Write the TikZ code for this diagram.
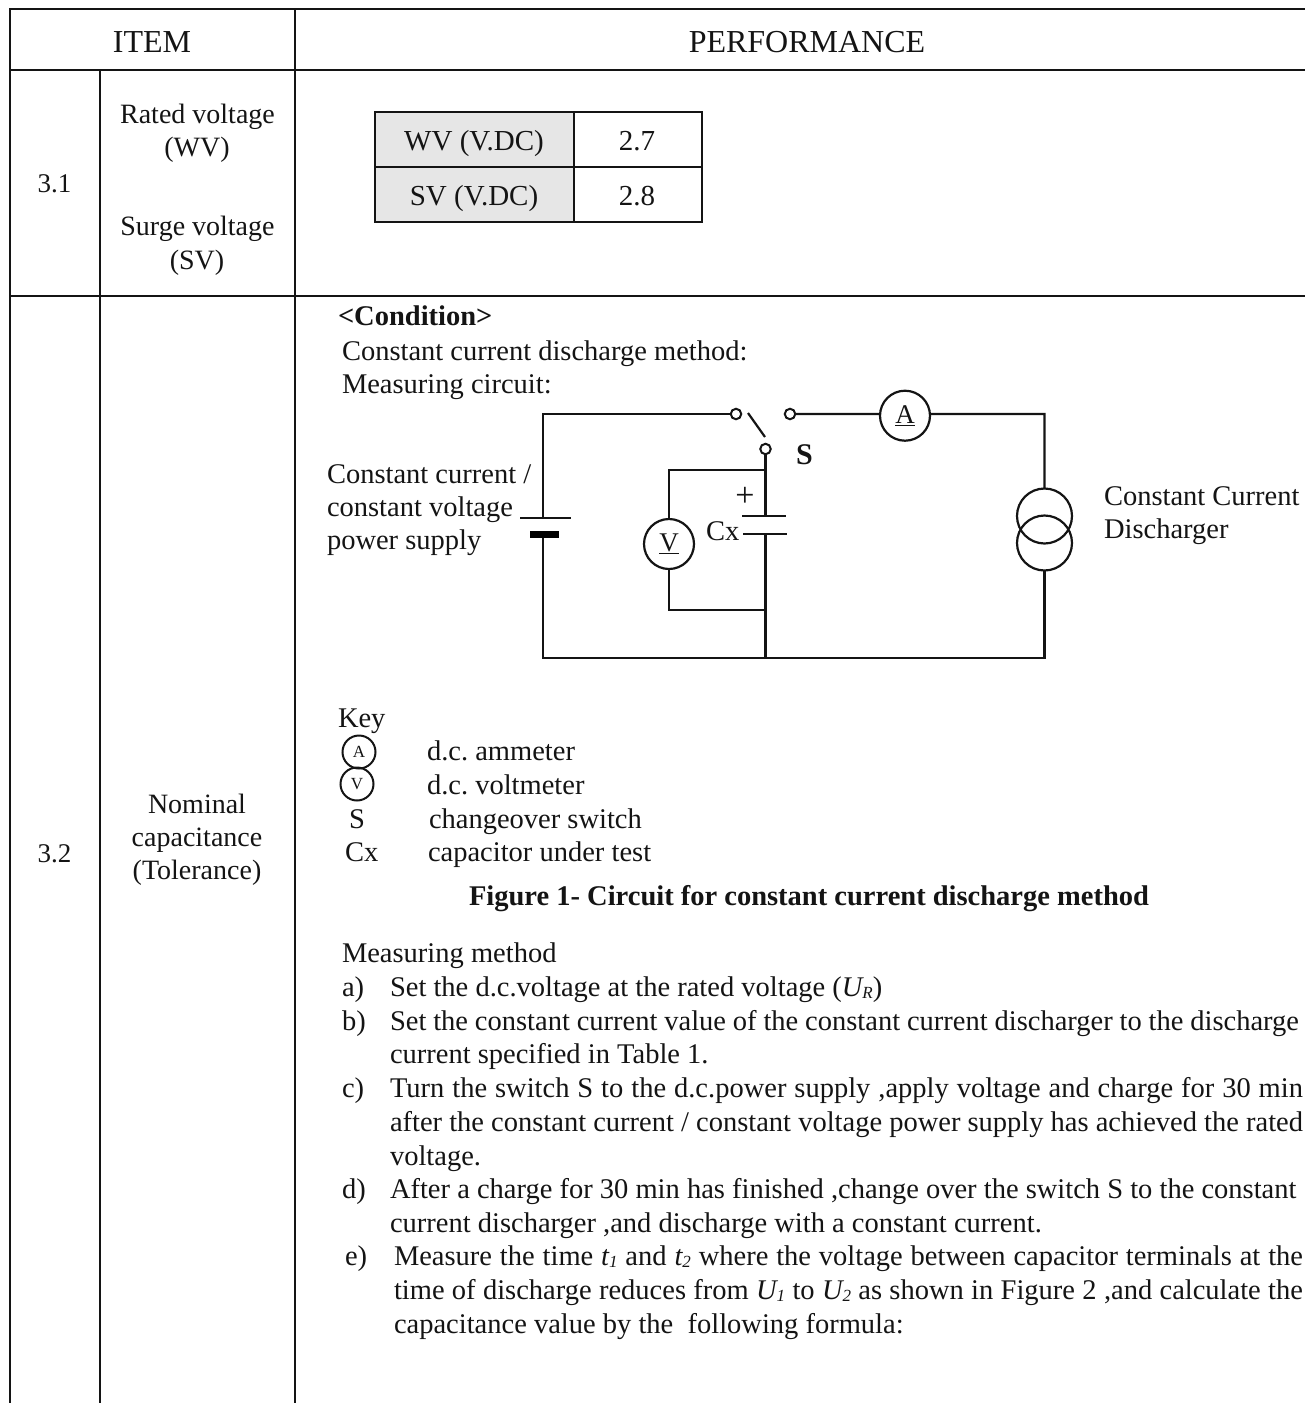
\documentclass[tikz,border=0pt]{standalone}
\usepackage{fontspec}
\setmainfont{Liberation Serif}
\newcommand{\smallsub}[1]{\raisebox{-2pt}{\fontsize{17}{17}\selectfont\itshape #1}}
\definecolor{ink}{HTML}{141414}
\definecolor{cellgrey}{HTML}{E6E6E6}
\tikzset{
  txt/.style={inner sep=0pt,outer sep=0pt,anchor=base west,text=ink,font=\fontsize{28.5}{33}\selectfont\frenchspacing},
  ctr/.style={inner sep=0pt,outer sep=0pt,anchor=base,text=ink,font=\fontsize{28}{33}\selectfont},
  head/.style={ctr,font=\fontsize{32}{33}\selectfont},
  num/.style={ctr,font=\fontsize{27}{33}\selectfont},
  cellt/.style={ctr,font=\fontsize{29}{33}\selectfont},
  grid/.style={draw=ink,line width=2.5pt},
  thingrid/.style={draw=ink,line width=2.2pt},
  wire/.style={draw=ink,line width=2.2pt},
  contact/.style={circle,draw=ink,line width=2pt,minimum size=10.5pt,inner sep=0pt,outer sep=0pt},
  meter/.style={circle,draw=ink,line width=2.2pt,minimum size=50pt,inner sep=0pt,outer sep=0pt,text=ink,font=\fontsize{27}{27}\selectfont},
  keymeter/.style={circle,draw=ink,line width=2pt,minimum size=33pt,inner sep=0pt,outer sep=0pt,text=ink,font=\fontsize{17}{17}\selectfont},
  source/.style={circle,draw=ink,line width=2.2pt,minimum size=55pt,inner sep=0pt,outer sep=0pt}
}
\begin{document}
\begin{tikzpicture}[x=1pt,y=-1pt]
\useasboundingbox (0,0) rectangle (1305,1403);
% main table
\draw[grid] (10,1403) -- (10,9) -- (1305,9);
\draw[grid] (10,70) -- (1305,70);
\draw[grid] (10,296) -- (1305,296);
\draw[grid] (100,70) -- (100,1403);
\draw[grid] (295,9) -- (295,1403);
\node[head] (hitem) at (152,52) {ITEM};
\node[head] (hperf) at (807,52) {PERFORMANCE};
\node[num] (n31) at (54.5,192) {3.1};
\node[ctr] (rv1) at (197.5,123.5) {Rated voltage};
\node[ctr] (rv2) at (197,156.5) {(WV)};
\node[ctr] (sv1) at (197.5,235.5) {Surge voltage};
\node[ctr] (sv2) at (197,269.5) {(SV)};
\node[num] (n32) at (54.5,862) {3.2};
\node[ctr] (nc1) at (197,813) {Nominal};
\node[ctr] (nc2) at (197,846) {capacitance};
\node[ctr] (nc3) at (197,879) {(Tolerance)};
% voltage table
\fill[cellgrey] (375,112) rectangle (574,222);
\draw[thingrid] (375,112) rectangle (702,222);
\draw[thingrid] (375,167) -- (702,167);
\draw[thingrid] (574,112) -- (574,222);
\node[cellt] (wvl) at (474,150) {WV (V.DC)};
\node[cellt] (wvv) at (637,150) {2.7};
\node[cellt] (svl) at (474,205) {SV (V.DC)};
\node[cellt] (svv) at (637,205) {2.8};
% condition text
\node[txt] (cond) at (338,325) {\bfseries <Condition>};
\node[txt] (cond1) at (342,360) {Constant current discharge method:};
\node[txt] (cond2) at (342,393) {Measuring circuit:};
% circuit
\coordinate (tl) at (543,414);
\coordinate (bl) at (543,658);
\coordinate (bm) at (765.5,658);
\coordinate (br) at (1044.5,658);
\coordinate (tr) at (1044.5,414);
\node[contact] (sl) at (736,414) {};
\node[contact] (sr) at (790,414) {};
\node[contact] (sc) at (765.5,449) {};
\coordinate (bladeA) at (748,413);
\coordinate (bladeB) at (765,437);
\node[meter] (am) at (905,415.7) {\underline{A}};
\node[meter] (vm) at (669,544) {\underline{V}};
\node[source] (s1) at (1044.5,516) {};
\node[source] (s2) at (1044.5,543) {};
\coordinate (bat1) at (543,518);
\coordinate (bat2) at (543,534);
\coordinate (cap1) at (765.5,516);
\coordinate (cap2) at (765.5,534);
\coordinate (vtop) at (669,470);
\coordinate (vbot) at (669,610);
\coordinate (jt) at (765.5,470);
\coordinate (jb) at (765.5,610);
\draw[wire] (sl.west) -- (tl) -- (bat1);
\draw[wire] (bat2) -- (bl) -- (br) -- (s2.south);
\draw[wire] (s1.north) -- (tr) -- (am.4);
\draw[wire] (am.176) -- (sr.east);
\draw[wire] (bladeA) -- (bladeB);
\draw[wire] (sc.south) -- (cap1);
\draw[wire] (cap2) -- (bm);
\draw[wire] (jt) -- (vtop) -- (vm.north);
\draw[wire] (vm.south) -- (vbot) -- (jb);
\draw[wire] (520,518) -- (571,518);
\fill[black] (530,530.5) rectangle (559,538);
\draw[wire] (742,516) -- (786,516);
\draw[wire] (743,534.3) -- (787,534.3);
\node[ctr,font=\fontsize{34}{34}\selectfont] (plus) at (745,506) {+};
\node[txt] (cxl) at (706,540) {Cx};
\node[txt,font=\fontsize{30}{30}\bfseries\selectfont] (sl2) at (796,464) {S};
\node[txt] (ps1) at (327,483) {Constant current /};
\node[txt] (ps2) at (327,516) {constant voltage};
\node[txt] (ps3) at (327,549) {power supply};
\node[txt] (cd1) at (1104,505) {Constant Current};
\node[txt] (cd2) at (1104,538) {Discharger};
% key
\node[txt] (key) at (338,727) {Key};
\node[keymeter] (ka) at (359,752) {A};
\node[keymeter] (kv) at (357,784) {V};
\node[txt] (ks) at (349,828) {S};
\node[txt] (kc) at (345,861) {Cx};
\node[txt] (kat) at (427,760) {d.c. ammeter};
\node[txt] (kvt) at (427,794) {d.c. voltmeter};
\node[txt] (kst) at (429,828) {changeover switch};
\node[txt] (kct) at (428,861) {capacitor under test};
\node[txt] (fig) at (469,905) {\bfseries Figure 1- Circuit for constant current discharge method};
% method
\node[txt] (mm) at (342,962) {Measuring method};
\node[txt] (la) at (342,996) {a)};
\node[txt] (ta) at (390,996) {Set the d.c.voltage at the rated voltage ({\itshape U}\smallsub{R})};
\node[txt] (lb) at (342,1030) {b)};
\node[txt] (tb1) at (390,1030) {\makebox[909pt][s]{Set the constant current value of the constant current discharger to the discharge}};
\node[txt] (tb2) at (390,1063) {current specified in Table 1.};
\node[txt] (lc) at (342,1097) {c)};
\node[txt] (tc1) at (390,1097) {\makebox[913pt][s]{Turn the switch S to the d.c.power supply ,apply voltage and charge for 30 min}};
\node[txt] (tc2) at (390,1131) {\makebox[913pt][s]{after the constant current / constant voltage power supply has achieved the rated}};
\node[txt] (tc3) at (390,1165) {voltage.};
\node[txt] (ld) at (342,1198) {d)};
\node[txt] (td1) at (390,1198) {After a charge for 30 min has finished ,change over the switch S to the constant};
\node[txt] (td2) at (390,1232) {current discharger ,and discharge with a constant current.};
\node[txt] (le) at (345,1265) {e)};
\node[txt] (te1) at (394,1265) {\makebox[909pt][s]{Measure the time {\itshape t}\smallsub{1} and {\itshape t}\smallsub{2} where the voltage between capacitor terminals at the}};
\node[txt] (te2) at (394,1299) {\makebox[909pt][s]{time of discharge reduces from {\itshape U}\smallsub{1} to {\itshape U}\smallsub{2} as shown in Figure 2 ,and calculate the}};
\node[txt] (te3) at (394,1333) {capacitance value by the~ following formula:};
\end{tikzpicture}
\end{document}
